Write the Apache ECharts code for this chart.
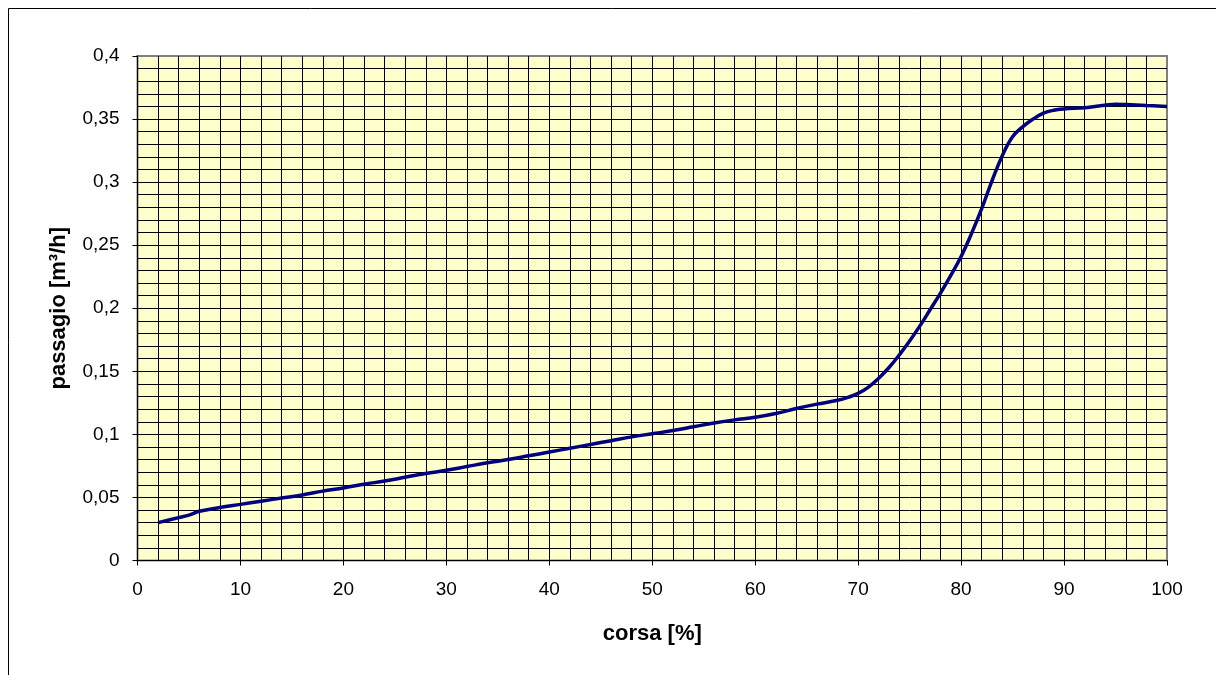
<!DOCTYPE html>
<html>
<head>
<meta charset="utf-8">
<script src="https://cdn.jsdelivr.net/npm/echarts@6/dist/echarts.min.js"></script>
<style>
html,body{margin:0;padding:0;background:#fff;}
#chart{width:1216px;height:675px;}
</style>
</head>
<body>
<div id="chart"></div>
<script>
var corsa = [2,4,5,6,8,10,12,14,16,18,20,22,24,26,28,30,32,34,36,38,40,42,44,46,48,50,52,54,56,58,60,62,64,66,68,69,70,71,72,73,74,75,76,77,78,79,80,81,82,83,84,85,86,87,88,89,90,92,93,94,95,96,98,100];
var passagio = [0.030,0.034,0.036,0.039,0.042,0.0445,0.047,0.0495,0.052,0.055,0.0575,0.0605,0.063,0.066,0.069,0.0715,0.0745,0.0775,0.080,0.083,0.086,0.089,0.092,0.095,0.098,0.1005,0.103,0.106,0.109,0.1115,0.1135,0.1165,0.1205,0.124,0.127,0.1293,0.1325,0.1375,0.1445,0.153,0.163,0.174,0.186,0.199,0.212,0.226,0.241,0.259,0.279,0.301,0.321,0.336,0.344,0.350,0.3547,0.357,0.358,0.359,0.360,0.361,0.3618,0.3615,0.3607,0.360];
var xAxisTitle = 'corsa [%]';
var yAxisTitle = 'passagio [m³/h]';

var seriesData = corsa.map(function(x,i){return [x, passagio[i]];});
var font = 'Liberation Sans, Arial, sans-serif';

var chart = echarts.init(document.getElementById('chart'));
chart.setOption({
  animation:false,
  backgroundColor:'#ffffff',
  graphic:[{
    type:'rect', z:-10,
    shape:{x:8.5,y:8.5,width:1400,height:900},
    style:{fill:'none', stroke:'#000', lineWidth:1}
  }],
  grid:{
    left:137.5, right:49, top:56, bottom:114.5,
    show:true, backgroundColor:'#FFFFCC', borderColor:'#808080', borderWidth:2,
    containLabel:false
  },
  xAxis:{
    type:'value', min:0, max:100, interval:10,
    name:xAxisTitle, nameLocation:'middle', nameGap:62,
    nameTextStyle:{fontFamily:font, fontSize:22, fontWeight:'bold', color:'#000'},
    axisLine:{show:true, lineStyle:{color:'#000', width:1}},
    axisTick:{show:true, inside:false, length:5, lineStyle:{color:'#000'}},
    axisLabel:{fontFamily:font, fontSize:19, color:'#000', margin:20},
    splitLine:{show:true, showMaxLine:false, lineStyle:{color:'#000', width:1}},
    minorTick:{show:false, splitNumber:5},
    minorSplitLine:{show:true, lineStyle:{color:'#000', width:1}}
  },
  yAxis:{
    type:'value', min:0, max:0.4, interval:0.05,
    name:yAxisTitle, nameLocation:'middle', nameGap:68,
    nameTextStyle:{fontFamily:font, fontSize:22, fontWeight:'bold', color:'#000'},
    axisLine:{show:true, lineStyle:{color:'#000', width:1}},
    axisTick:{show:true, inside:false, length:5, lineStyle:{color:'#000'}},
    axisLabel:{fontFamily:font, fontSize:19, color:'#000', margin:18,
      formatter:function(v){return String(+v.toFixed(2)).replace('.', ',');}},
    splitLine:{show:true, showMaxLine:false, lineStyle:{color:'#000', width:1}},
    minorTick:{show:false, splitNumber:5},
    minorSplitLine:{show:true, lineStyle:{color:'#000', width:1}}
  },
  series:[{
    type:'line', data:seriesData, smooth:0.4, showSymbol:false, symbol:'none',
    lineStyle:{color:'#000080', width:3.5}, z:5
  }]
});
</script>
</body>
</html>
